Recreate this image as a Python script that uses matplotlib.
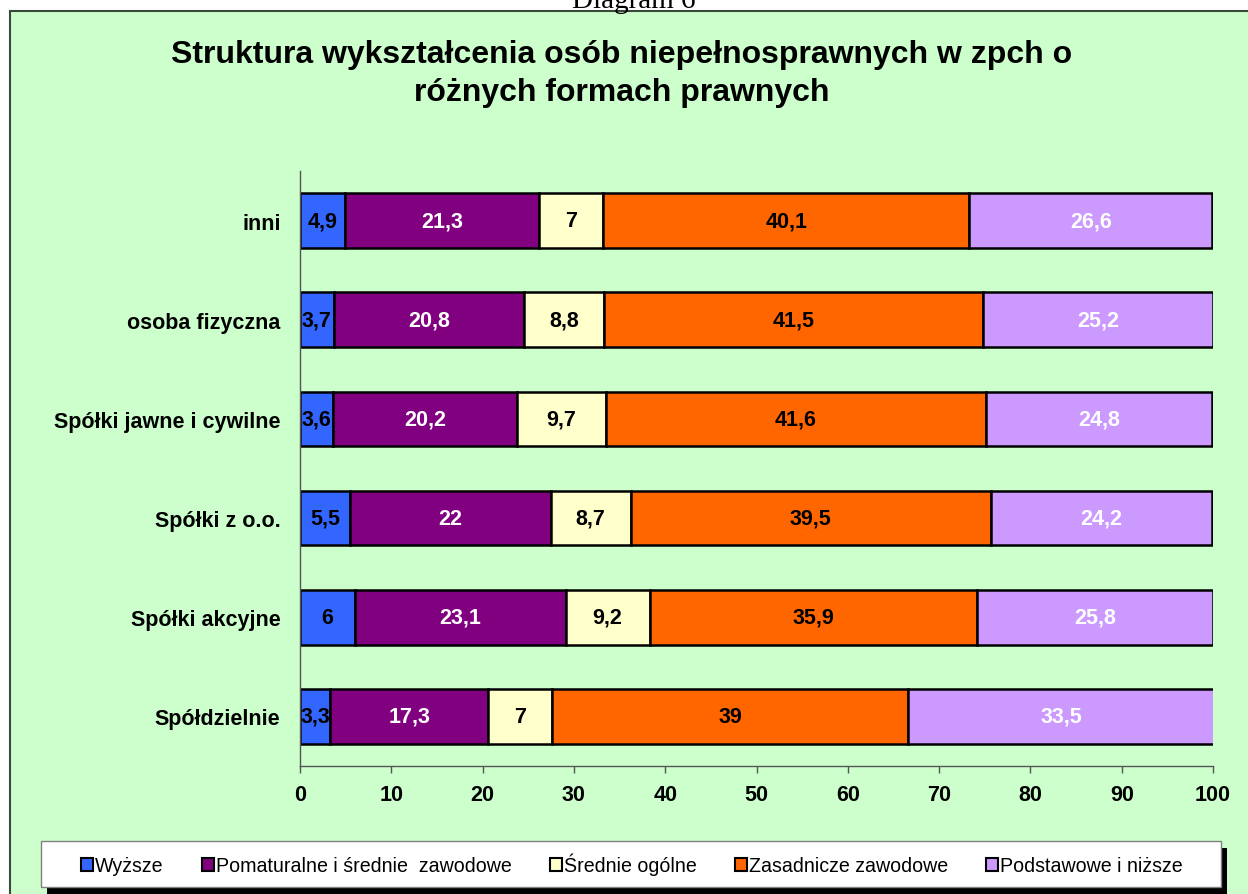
import numpy as np
import matplotlib
matplotlib.use('Agg')
import matplotlib.pyplot as plt
from matplotlib.patches import Rectangle

# dane
kategorie = ['Spółdzielnie', 'Spółki akcyjne', 'Spółki z o.o.',
             'Spółki jawne i cywilne', 'osoba fizyczna', 'inni']
wyzsze = [3.3, 6, 5.5, 3.6, 3.7, 4.9]
pomaturalne = [17.3, 23.1, 22, 20.2, 20.8, 21.3]
srednie_ogolne = [7, 9.2, 8.7, 9.7, 8.8, 7]
zasadnicze = [39, 35.9, 39.5, 41.6, 41.5, 40.1]
podstawowe = [33.5, 25.8, 24.2, 24.8, 25.2, 26.6]

serie = [
    ('Wyższe', wyzsze, '#3366FF', 'black'),
    ('Pomaturalne i średnie  zawodowe', pomaturalne, '#800080', 'white'),
    ('Średnie ogólne', srednie_ogolne, '#FFFFCC', 'black'),
    ('Zasadnicze zawodowe', zasadnicze, '#FF6600', 'black'),
    ('Podstawowe i niższe', podstawowe, '#CC99FF', 'white'),
]

plt.rcParams['font.family'] = ['Liberation Sans', 'DejaVu Sans']

W, H = 1248, 895
fig = plt.figure(figsize=(W / 100, H / 100), dpi=100)
fig.patch.set_facecolor('white')


def px(x, y):
    # piksele (od lewego górnego rogu) -> ułamki figury
    return x / W, 1 - y / H


# zielone tło wykresu
tlo = Rectangle(px(10, 905), 1.02, (905 - 12) / H,
                transform=fig.transFigure, facecolor='#CCFFCC',
                edgecolor='#3a4a3a', linewidth=1.5, zorder=-10)
fig.patches.append(tlo)

fig.text(*px(634, 8), 'Diagram 6', family='Liberation Serif',
         fontsize=21, ha='center', va='baseline')

fig.text(*px(622, 74),
         'Struktura wykształcenia osób niepełnosprawnych w zpch o\nróżnych formach prawnych',
         ha='center', va='center', fontsize=23, fontweight='bold', linespacing=1.32)

ax = fig.add_axes([300 / W, 1 - 767 / H, 913 / W, 595 / H])
ax.set_facecolor('none')

y = np.arange(len(kategorie))
lewo = np.zeros(len(kategorie))
for nazwa, wartosci, kolor, kolor_tekstu in serie:
    wartosci = np.array(wartosci)
    ax.barh(y, wartosci, left=lewo, height=0.55, color=kolor,
            edgecolor='black', linewidth=1.8, label=nazwa)
    for yi, l, w in zip(y, lewo, wartosci):
        tekst = ('%g' % w).replace('.', ',')
        ax.text(l + w / 2, yi, tekst, ha='center', va='center',
                fontsize=15.5, fontweight='bold', color=kolor_tekstu)
    lewo += wartosci

ax.set_xlim(0, 100)
ax.set_ylim(-0.5, len(kategorie) - 0.5)
ax.set_xticks(range(0, 101, 10))
ax.set_yticks(y)
ax.set_yticklabels(kategorie)
ax.tick_params(axis='y', length=0, pad=14, labelsize=15.5)
ax.tick_params(axis='x', length=5, width=1, color='#555555', pad=8, labelsize=15.5)
for lab in ax.get_xticklabels() + ax.get_yticklabels():
    lab.set_fontweight('bold')
for s in ['top', 'right']:
    ax.spines[s].set_visible(False)
for s in ['left', 'bottom']:
    ax.spines[s].set_color('#555555')
    ax.spines[s].set_linewidth(1)

# ramka legendy z cieniem
fig.patches.append(Rectangle(px(47, 895), 1180 / W, 46 / H, transform=fig.transFigure,
                             facecolor='black', edgecolor='none', zorder=1))
fig.patches.append(Rectangle(px(40.5, 888), 1180 / W, 46 / H, transform=fig.transFigure,
                             facecolor='white', edgecolor='#808080', linewidth=1, zorder=2))

leg = fig.legend(loc='center left', bbox_to_anchor=px(81, 865),
                 ncol=5, fontsize=14.1, frameon=False,
                 handlelength=0.6, handleheight=0.6, handletextpad=0.12,
                 borderaxespad=0, borderpad=0, columnspacing=1.95)
leg.set_zorder(3)
for h in leg.legend_handles:
    h.set_linewidth(1.5)

fig.savefig('out.png', dpi=100, facecolor=fig.get_facecolor())
